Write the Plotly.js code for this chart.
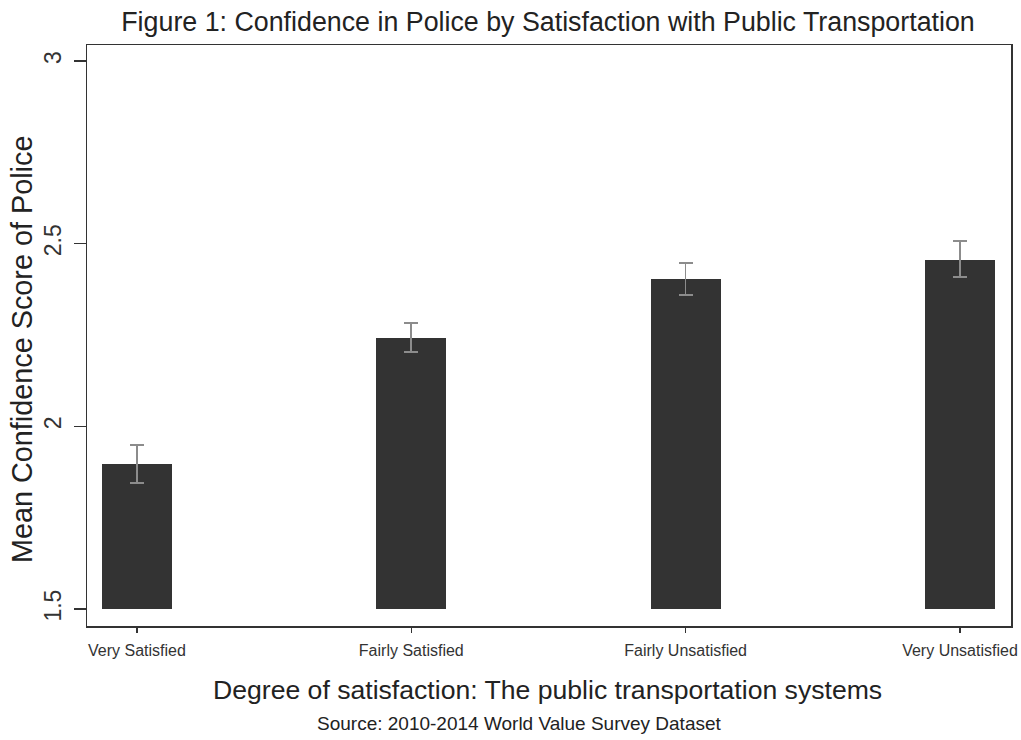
<!DOCTYPE html>
<html>
<head>
<meta charset="utf-8">
<script src="https://cdn.plot.ly/plotly-3.0.1.min.js"></script>
<style>html,body{margin:0;padding:0;background:#fff;}#chart{width:1021px;height:740px;}</style>
</head>
<body>
<div id="chart"></div>
<script>
const categories = ["Very Satisfied", "Fairly Satisfied", "Fairly Unsatisfied", "Very Unsatisfied"];
const meanScores = [1.897, 2.242, 2.403, 2.455];
const ciUpper = [1.949, 2.283, 2.447, 2.507];
const ciLower = [1.845, 2.204, 2.360, 2.409];
const baseValue = 1.5;
const yTickVals = [1.5, 2, 2.5, 3];
const yTickText = ["1.5", "2", "2.5", "3"];

const xIdx = categories.map((c, i) => i);
const trace = {
  type: "bar",
  x: xIdx,
  y: meanScores.map(v => v - baseValue),
  base: meanScores.map(() => baseValue),
  width: 0.255,
  marker: {color: "#333333", line: {width: 0}},
  error_y: {
    type: "data",
    symmetric: false,
    array: ciUpper.map((u, i) => u - meanScores[i]),
    arrayminus: meanScores.map((m, i) => m - ciLower[i]),
    color: "#8c8c8c",
    thickness: 1.6,
    width: 7
  },
  hoverinfo: "skip"
};

const font = "Liberation Sans, Arial, sans-serif";
const W = 924, H = 581, L = 87, B = 626;
const layout = {
  width: 1021, height: 740,
  margin: {l: 87, r: 10, t: 45, b: 114},
  paper_bgcolor: "#fff", plot_bgcolor: "#fff",
  font: {family: font, color: "#333"},
  showlegend: false,
  bargap: 0,
  title: {
    text: "Figure 1: Confidence in Police by Satisfaction with Public Transportation",
    font: {size: 26.8, color: "#222", family: font},
    x: 548 / 1021, xanchor: "center", y: 1 - 22 / 740, yanchor: "middle"
  },
  xaxis: {
    range: [-0.182, 3.186],
    tickvals: xIdx, ticktext: categories,
    ticks: "outside", ticklen: 5, tickwidth: 1.2, tickcolor: "#333",
    tickfont: {size: 16, color: "#333"},
    ticklabelstandoff: 4,
    showgrid: false, zeroline: false,
    showline: true, linecolor: "#333", linewidth: 1.5, mirror: true
  },
  yaxis: {
    range: [1.4535, 3.044],
    tickvals: yTickVals, ticktext: yTickText,
    tickangle: -90,
    ticks: "outside", ticklen: 12, tickwidth: 1.2, tickcolor: "#333",
    tickfont: {size: 23, color: "#333"},
    ticklabelstandoff: 3,
    showgrid: false, zeroline: false,
    showline: true, linecolor: "#333", linewidth: 1.5, mirror: true
  },
  annotations: [
    {
      text: "Mean Confidence Score of Police",
      xref: "paper", yref: "paper",
      x: (22 - L) / W, y: (B - 350) / H,
      xanchor: "center", yanchor: "middle", textangle: -90,
      showarrow: false, font: {size: 28.8, color: "#222"}
    },
    {
      text: "Degree of satisfaction: The public transportation systems",
      xref: "paper", yref: "paper",
      x: (547 - L) / W, y: -(690 - B) / H,
      xanchor: "center", yanchor: "middle",
      showarrow: false, font: {size: 26.6, color: "#222"}
    },
    {
      text: "Source: 2010-2014 World Value Survey Dataset",
      xref: "paper", yref: "paper",
      x: (519 - L) / W, y: -(723 - B) / H,
      xanchor: "center", yanchor: "middle",
      showarrow: false, font: {size: 19, color: "#222"}
    }
  ]
};

Plotly.newPlot("chart", [trace], layout, {displayModeBar: false, staticPlot: true});
</script>
</body>
</html>
